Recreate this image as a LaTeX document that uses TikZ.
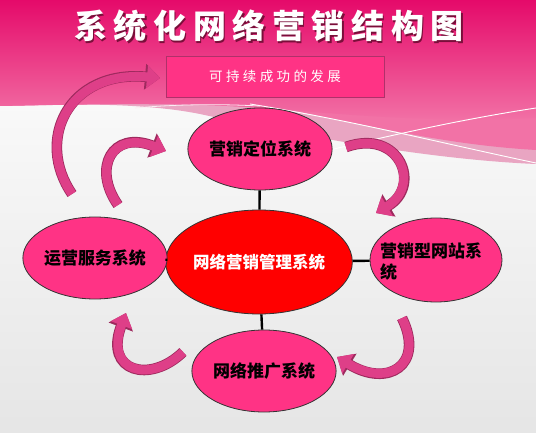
\documentclass[tikz,border=0pt]{standalone}
\usepackage{fontspec}
\usetikzlibrary{arrows.meta,shapes.geometric}
\newfontfamily\cjk{Noto Sans CJK SC}
\newfontfamily\cjktitle[LetterSpace=20]{Noto Sans CJK SC}
\newfontfamily\cjkbox[LetterSpace=25]{Noto Sans CJK SC}
\definecolor{deeppink}{HTML}{E50A6A}
\definecolor{midpink}{HTML}{F272A6}
\definecolor{bandpink}{HTML}{E9A5C2}
\definecolor{nodepink}{HTML}{FF3385}
\definecolor{boxedge}{HTML}{B0306A}
\definecolor{arrowfill}{HTML}{DE3F88}
\definecolor{arrowedge}{HTML}{9E2A5E}
\definecolor{shadowc}{HTML}{7A0E3A}
\tikzset{
  sysnode/.style={ellipse, draw=black!80, line width=0.8pt, fill=nodepink, inner sep=0pt,
    font=\cjk\bfseries\fontsize{17}{20}\selectfont, text=black},
  link/.style={line width=2.4pt, black},
  ribbon/.style={line width=9pt, arrowfill, -{Triangle[width=22pt,length=13pt]},
    preaction={draw=arrowedge, line width=10.6pt, -{Triangle[width=25pt,length=15pt]}}},
}
\begin{document}
\begin{tikzpicture}[x=1pt,y=-1pt]
\useasboundingbox (0,0) rectangle (536,433);
% background
\shade[top color=white, bottom color=black!10] (0,0) rectangle (536,433);
\fill[bandpink] (0,0) -- (536,0) -- (536,164) .. controls (440,160) and (320,140) .. (200,114)
  .. controls (140,102) and (60,104) .. (0,106) -- cycle;
\fill[midpink] (0,0) -- (536,0) -- (536,150) .. controls (450,145) and (380,128) .. (300,112)
  .. controls (200,100) and (100,104) .. (0,106) -- cycle;
\shade[top color=deeppink, bottom color=midpink] (0,0) -- (536,0) -- (536,118)
  .. controls (460,122) and (380,118) .. (290,110) .. controls (200,102) and (100,104) .. (0,106) -- cycle;
\draw[white, line width=0.9pt] (250,104) .. controls (350,120) and (450,145) .. (536,163);
\draw[white, line width=0.9pt] (330,150) .. controls (400,133) and (470,118) .. (536,108);
\draw[white!80!bandpink, line width=0.8pt] (135,108) .. controls (180,104) and (220,104) .. (260,106);
% title
\node[text=shadowc, font=\cjktitle\bfseries\fontsize{33}{36}\selectfont] at (270.5,27.5) {系统化网络营销结构图};
\node (title) [text=white, font=\cjktitle\bfseries\fontsize{33}{36}\selectfont] at (269,26) {系统化网络营销结构图};
% goal box
\node (goal) [draw=boxedge, line width=0.8pt, fill=nodepink, minimum width=218pt, minimum height=41pt,
  inner sep=0pt, text=white, font=\cjkbox\fontsize{13.5}{16}\selectfont] at (275,76.5) {可持续成功的发展};
% nodes
\node (center) [sysnode, fill=red, minimum width=156pt, minimum height=104pt, text=white,
  font=\cjk\bfseries\fontsize{16.5}{20}\selectfont] at (259,262) {网络营销管理系统};
\node (top) [sysnode, minimum width=132pt, minimum height=82pt] at (260,149) {营销定位系统};
\node (left) [sysnode, minimum width=132pt, minimum height=82pt] at (95,258) {运营服务系统};
\node (right) [sysnode, minimum width=132pt, minimum height=84pt] at (436,260) {};
\node (righttext) [font=\cjk\bfseries\fontsize{17}{21}\selectfont, align=left, anchor=north west, inner sep=0pt]
  at (380,243) {营销型网站系\\统};
\node (bottom) [sysnode, minimum width=130pt, minimum height=82pt] at (264,371) {网络推广系统};
% links
\draw[link] (top) -- (center);
\draw[link] (left) -- (center);
\draw[link] (center) -- (right);
\draw[link] (center) -- (bottom);
% ribbon arrows
\coordinate (a1s) at (72,194); \coordinate (a1e) at (160,78);
\coordinate (a2s) at (118,205); \coordinate (a2e) at (166,151);
\coordinate (a3s) at (346,147); \coordinate (a3e) at (376,213);
\coordinate (a4s) at (402,318); \coordinate (a4e) at (337,357);
\coordinate (a5s) at (183,352); \coordinate (a5e) at (126,313);
\draw[ribbon] (a1s) .. controls (35,140) and (68,70) .. (a1e);
\draw[ribbon] (a2s) .. controls (92,168) and (112,130) .. (a2e);
\draw[ribbon] (a3s) .. controls (400,128) and (422,186) .. (a3e);
\draw[ribbon] (a4s) .. controls (425,365) and (388,388) .. (a4e);
\draw[ribbon] (a5s) .. controls (150,384) and (104,372) .. (a5e);
\end{tikzpicture}
\end{document}
